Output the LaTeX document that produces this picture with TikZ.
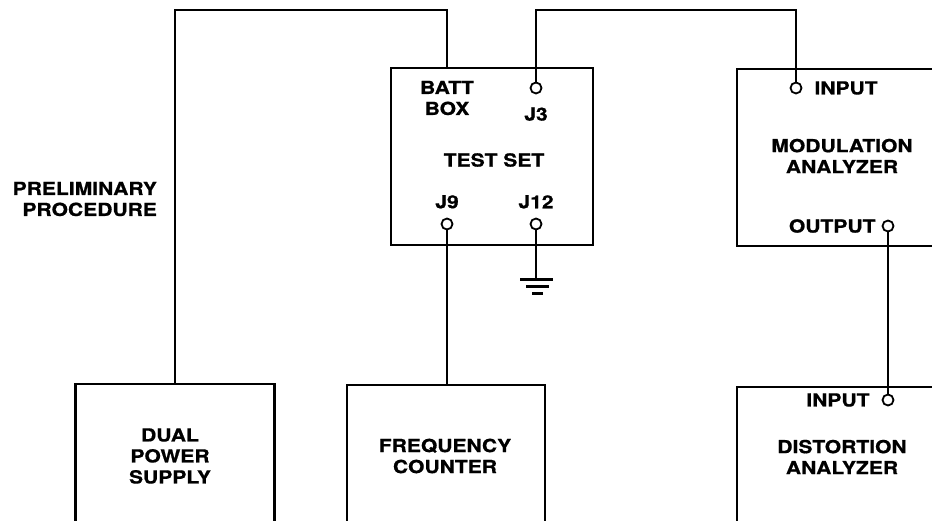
\documentclass[tikz,border=0pt]{standalone}
\usepackage{fontspec}
\newfontfamily\platefont{TeX Gyre Heros}[FakeStretch=1.17, BoldFeatures={FakeBold=0.8}]
\usetikzlibrary{positioning, calc}

\begin{document}
\begin{tikzpicture}[
		% one unit = one pixel of the plate, y running down
		x=1pt, y=-1pt,
		line width=2.2pt,
		unit/.style={draw, rectangle, inner sep=0pt},
		jack/.style={draw, circle, fill=white, inner sep=0pt, minimum size=11pt, line width=1.8pt},
		tag/.style={font=\platefont\bfseries\fontsize{18pt}{21pt}\selectfont, inner sep=0pt, align=center}
		]
		
		\useasboundingbox (0,0) rectangle (932,521);
		\clip (0,0) rectangle (932,521);
		
		% --- 1. INSTRUMENT BOXES ---
		% the lower and right boxes run off the plate, so they are clipped
		\node[unit, minimum width=202pt, minimum height=177pt] (testset) at (492,156.5) {};
		\node[unit, minimum width=243pt, minimum height=177pt] (modan) at (858.5,157.5) {};
		\node[unit, minimum width=243pt, minimum height=213pt] (distan) at (858.5,493.5) {};
		\node[unit, minimum width=199pt, minimum height=216pt] (psu) at (175,492) {};
		\node[unit, minimum width=198pt, minimum height=215pt] (counter) at (446,492.5) {};
		
		% --- 2. JACKS ---
		\node[jack] (j3) at (536,88) {};
		\node[jack] (j9) at (447,224) {};
		\node[jack] (j12) at (536,224) {};
		\node[jack] (modin) at (796,88) {};
		\node[jack] (modout) at (888,226) {};
		\node[jack] (distin) at (888,400) {};
		
		% Reference points for the wiring
		\coordinate (top) at (0,10);
		\coordinate (batt) at (testset.north -| j9);
		\coordinate (gnd) at (536,280);
		
		% --- 3. WIRING ---
		\draw (psu.north) |- (top -| batt) -- (batt);
		\draw (j3) |- (top -| modin) -- (modin);
		\draw (j9) -- (j9 |- counter.north);
		\draw (modout) -- (distin);
		\draw (j12) -- (gnd);
		
		% Ground symbol
		\draw[line width=3pt] ($(gnd)+(-16,0)$) -- ($(gnd)+(17,0)$);
		\draw[line width=3pt] ($(gnd)+(-10,7)$) -- ($(gnd)+(13,7)$);
		\draw[line width=3pt] ($(gnd)+(-4,14)$) -- ($(gnd)+(7,14)$);
		
		% --- 4. LABELS ---
		\node[tag, align=right, anchor=east] (prelim) at (158,199) {PRELIMINARY\\PROCEDURE};
		\node[tag] (battlbl) at (447,98) {BATT\\BOX};
		\node[tag, below=12pt of j3] (j3lbl) {J3};
		\node[tag] (testlbl) at (494,160) {TEST SET};
		\node[tag, above=8pt of j9] (j9lbl) {J9};
		\node[tag, above=8pt of j12] (j12lbl) {J12};
		\node[tag, right=11pt of modin] (modinlbl) {INPUT};
		\node[tag] (modlbl) at (842,156) {MODULATION\\ANALYZER};
		\node[tag, left=5pt of modout] (modoutlbl) {OUTPUT};
		\node[tag, left=11pt of distin] (distinlbl) {INPUT};
		\node[tag] (distlbl) at (842,457) {DISTORTION\\ANALYZER};
		\node[tag] (psulbl) at (170,456) {DUAL\\POWER\\SUPPLY};
		\node[tag] (counterlbl) at (445,456) {FREQUENCY\\COUNTER};
		
	\end{tikzpicture}
\end{document}
